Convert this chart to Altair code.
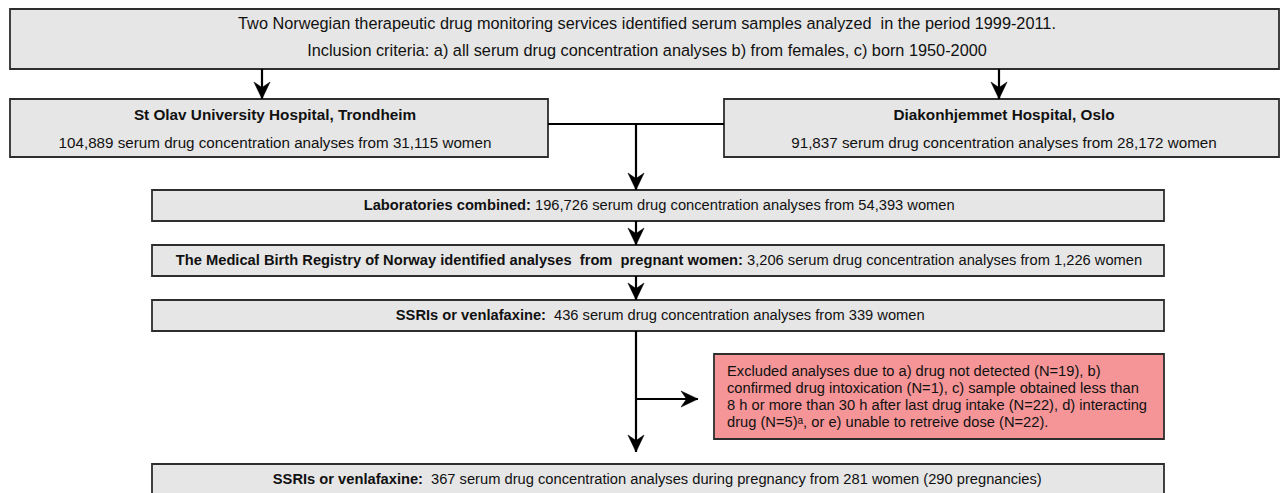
import altair as alt
import pandas as pd

# plot area maps 1:1 onto window pixels (page margin 8px)
W, H = 1272, 485
OX, OY = 8, 8
FONT = "Liberation Sans"
NB = "\u00a0"

# ---- boxes ----
box_x0 = [10, 10, 724, 152, 152, 152, 714, 152]
box_x1 = [1279, 548, 1279, 1164, 1164, 1164, 1164, 1164]
box_y0 = [9, 99, 99, 190, 245, 300, 354, 464]
box_y1 = [69, 157, 157, 221, 276, 331, 439, 510]
box_fill = ["#e6e6e6", "#e6e6e6", "#e6e6e6", "#e6e6e6", "#e6e6e6", "#e6e6e6", "#f59597", "#e6e6e6"]

# ---- connectors ----
seg_x0 = [262, 999, 548, 636, 636, 636, 636, 636]
seg_y0 = [69, 69, 124, 124, 221, 276, 331, 399]
seg_x1 = [262, 999, 724, 636, 636, 636, 636, 698]
seg_y1 = [99, 99, 124, 190, 245, 300, 452, 399]
seg_head = [True, True, False, True, True, True, True, True]

# ---- texts ----
top_x = [647, 647]
top_y = [24, 51]
top_text = [
    "Two Norwegian therapeutic drug monitoring services identified serum samples analyzed " + NB + "in the period 1999-2011.",
    "Inclusion criteria: a) all serum drug concentration analyses b) from females, c) born 1950-2000",
]
hosp_x = [275, 1004]
hosp_title_y = [115, 115]
hosp_title = ["St Olav University Hospital, Trondheim", "Diakonhjemmet Hospital, Oslo"]
hosp_line_y = [143, 143]
hosp_line = [
    "104,889 serum drug concentration analyses from 31,115 women",
    "91,837 serum drug concentration analyses from 28,172 women",
]

# mixed lines: bold part ends at split_x, regular starts at reg_x
mx_y = [206, 261, 316, 480]
mx_split = [531, 743, 546, 423]
mx_reg = [535, 747, 554, 431]
mx_bold = [
    "Laboratories combined:",
    "The Medical Birth Registry of Norway identified analyses " + NB + "from " + NB + "pregnant women:",
    "SSRIs or venlafaxine:",
    "SSRIs or venlafaxine:",
]
mx_regular = [
    "196,726 serum drug concentration analyses from 54,393 women",
    "3,206 serum drug concentration analyses from 1,226 women",
    "436 serum drug concentration analyses from 339 women",
    "367 serum drug concentration analyses during pregnancy from 281 women (290 pregnancies)",
]

# exclusion box, left aligned
ex_x = [727, 727, 727, 727]
ex_y = [372, 389, 406, 423]
ex_text = [
    "Excluded analyses due to a) drug not detected (N=19), b)",
    "confirmed drug intoxication (N=1), c) sample obtained less than",
    "8 h or more than 30 h after last drug intake (N=22), d) interacting",
    "drug (N=5)\u1d43, or e) unable to retreive dose (N=22).",
]

xs = alt.Scale(domain=[OX, OX + W], nice=False, zero=False)
ys = alt.Scale(domain=[OY, OY + H], nice=False, zero=False, reverse=True)

boxes = pd.DataFrame({"x0": box_x0, "x1": box_x1, "y0": box_y0, "y1": box_y1, "fill": box_fill})
rects = alt.Chart(boxes).mark_rect(stroke="#2e2e2e", strokeWidth=1.8).encode(
    x=alt.X("x0:Q", scale=xs, axis=None), x2="x1:Q",
    y=alt.Y("y0:Q", scale=ys, axis=None), y2="y1:Q",
    fill=alt.Fill("fill:N", scale=None),
)

segs = pd.DataFrame({"x0": seg_x0, "y0": seg_y0, "x1": seg_x1, "y1": seg_y1, "head": seg_head})
lines = alt.Chart(segs).mark_rule(color="#000000", strokeWidth=2.2).encode(
    x=alt.X("x0:Q", scale=xs, axis=None), x2="x1:Q",
    y=alt.Y("y0:Q", scale=ys, axis=None), y2="y1:Q",
)

HEAD = 17.0
hx, hy, ha = [], [], []
for a, b, c, d, h in zip(seg_x0, seg_y0, seg_x1, seg_y1, seg_head):
    if not h:
        continue
    if c == a:  # vertical, downward
        hx.append(c); hy.append(d - HEAD / 2); ha.append(0)
    else:  # horizontal, rightward
        hx.append(c - HEAD / 2); hy.append(d); ha.append(270)
heads = pd.DataFrame({"x": hx, "y": hy, "ang": ha})
arrow_path = "M0,1 L-0.95,-1 L0,-0.35 L0.95,-1 Z"
arrows = alt.Chart(heads).mark_point(
    shape=arrow_path, filled=True, fill="#000000", stroke="#000000", strokeWidth=0.5,
    size=HEAD * HEAD, opacity=1,
).encode(
    x=alt.X("x:Q", scale=xs, axis=None),
    y=alt.Y("y:Q", scale=ys, axis=None),
    angle=alt.Angle("ang:Q", scale=None),
)


def text_layer(x, y, t, align, weight, size):
    df = pd.DataFrame({"x": x, "y": y, "t": t})
    return alt.Chart(df).mark_text(
        align=align, baseline="middle", font=FONT, fontSize=size, fontWeight=weight, color="#111111"
    ).encode(
        x=alt.X("x:Q", scale=xs, axis=None),
        y=alt.Y("y:Q", scale=ys, axis=None),
        text="t:N",
    )


layers = [
    rects, lines, arrows,
    text_layer(top_x, top_y, top_text, "center", "normal", 16.3),
    text_layer(hosp_x, hosp_title_y, hosp_title, "center", "bold", 15.3),
    text_layer(hosp_x, hosp_line_y, hosp_line, "center", "normal", 15.2),
    text_layer(mx_split, mx_y, mx_bold, "right", "bold", 14.7),
    text_layer(mx_reg, mx_y, mx_regular, "left", "normal", 14.7),
    text_layer(ex_x, ex_y, ex_text, "left", "normal", 14.7),
]

chart = alt.layer(*layers).properties(
    width=W, height=H, padding=0, autosize=alt.AutoSizeParams(type="none"),
).configure_view(stroke=None)

chart.save("out.html", embed_options={"renderer": "svg", "actions": False})
